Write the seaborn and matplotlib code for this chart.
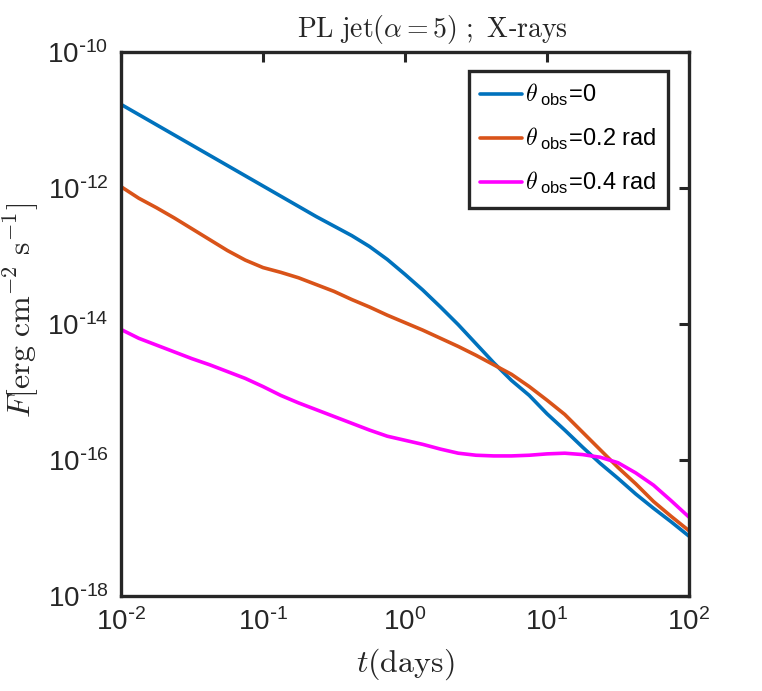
import numpy as np
import seaborn as sns
import matplotlib.pyplot as plt
from matplotlib.ticker import FixedLocator, FuncFormatter, NullLocator

# log10 of time (days) and log10 of flux
log_t = [-2.0, -1.875, -1.75, -1.625, -1.5, -1.375, -1.25, -1.125, -1.0,
         -0.875, -0.75, -0.625, -0.5, -0.375, -0.25, -0.125, 0.0,
         0.125, 0.25, 0.375, 0.5, 0.625, 0.75, 0.875, 1.0,
         1.125, 1.25, 1.375, 1.5, 1.625, 1.75, 1.875, 2.0]
log_f_0 = [-10.77, -10.92, -11.07, -11.22, -11.37, -11.52, -11.67, -11.82, -11.97,
           -12.12, -12.27, -12.42, -12.56, -12.70, -12.86, -13.05, -13.27,
           -13.50, -13.75, -14.01, -14.29, -14.57, -14.83, -15.05, -15.32,
           -15.56, -15.81, -16.05, -16.27, -16.50, -16.71, -16.91, -17.12]
log_f_02 = [-11.98, -12.15, -12.29, -12.44, -12.60, -12.76, -12.92, -13.06, -13.17,
            -13.24, -13.32, -13.42, -13.52, -13.64, -13.75, -13.87, -13.98,
            -14.09, -14.21, -14.33, -14.46, -14.60, -14.74, -14.92, -15.12,
            -15.33, -15.59, -15.85, -16.11, -16.35, -16.61, -16.83, -17.04]
log_f_04 = [-14.08, -14.21, -14.31, -14.41, -14.51, -14.60, -14.70, -14.80, -14.92,
            -15.05, -15.16, -15.26, -15.36, -15.46, -15.56, -15.65, -15.71,
            -15.77, -15.84, -15.90, -15.93, -15.94, -15.94, -15.93, -15.91,
            -15.90, -15.92, -15.96, -16.04, -16.19, -16.37, -16.60, -16.84]

labels = [r'$\theta\,{}_{\mathregular{obs}}$=0',
          r'$\theta\,{}_{\mathregular{obs}}$=0.2 rad',
          r'$\theta\,{}_{\mathregular{obs}}$=0.4 rad']
colors = ['#0072BD', '#D95319', '#FF00FF']

sns.set_theme(style='white')
plt.rcParams['font.family'] = ['Liberation Sans', 'DejaVu Sans']

ink = '#262626'
fig = plt.figure(figsize=(7.62, 6.91), dpi=100)
ax = fig.add_axes([0.1588, 0.1375, 0.7454, 0.7872])

t = 10.0 ** np.array(log_t)
for lf, lab, col in zip([log_f_0, log_f_02, log_f_04], labels, colors):
    sns.lineplot(x=t, y=10.0 ** np.array(lf), ax=ax, color=col, lw=2.6,
                 label=lab, sort=False)

ax.set_xscale('log')
ax.set_yscale('log')
ax.set_xlim(1e-2, 1e2)
ax.set_ylim(1e-18, 1e-10)

ax.xaxis.set_major_locator(FixedLocator([1e-2, 1e-1, 1e0, 1e1, 1e2]))
ax.yaxis.set_major_locator(FixedLocator([1e-18, 1e-16, 1e-14, 1e-12, 1e-10]))
ax.xaxis.set_minor_locator(NullLocator())
ax.yaxis.set_minor_locator(NullLocator())


def sci(v, pos):
    e = int(round(np.log10(v)))
    if e < 0:
        return r'$\mathregular{10^{\text{-}%d}}$' % (-e)
    return r'$\mathregular{10^{%d}}$' % e


ax.xaxis.set_major_formatter(FuncFormatter(sci))
ax.yaxis.set_major_formatter(FuncFormatter(sci))
ax.tick_params(which='major', direction='in', length=7, width=2.2,
               top=True, right=True, colors=ink, labelsize=20, pad=9)

for s in ax.spines.values():
    s.set_linewidth(2.4)
    s.set_color(ink)

ax.set_xlabel(r'$t(\mathrm{days})$', fontsize=23, color=ink,
              math_fontfamily='cm')
ax.set_ylabel(r'$F[\mathrm{erg\ cm}^{-2}\ \mathrm{s}^{-1}]$', fontsize=23,
              color=ink, math_fontfamily='cm')
ax.xaxis.set_label_coords(0.5, -0.092)
ax.yaxis.set_label_coords(-0.14, 0.525)
ax.set_title(r'$\mathrm{PL\ jet}(\alpha = 5)\ ;\ \mathrm{X}$' + '-' + r'$\mathrm{rays}$',
             fontsize=20, color=ink, math_fontfamily='cm',
             x=(432 - 121) / 568, pad=11)

leg = ax.legend(loc='upper right', bbox_to_anchor=(0.963, 0.966), fontsize=17,
                frameon=True, fancybox=False, framealpha=1, borderpad=0.5,
                handlelength=1.75, handletextpad=0.12, labelspacing=0.76,
                borderaxespad=0)
leg.get_frame().set_edgecolor(ink)
leg.get_frame().set_linewidth(2.4)
for txt in leg.get_texts():
    txt.set_math_fontfamily('cm')
    txt.set_color('black')

fig.savefig('out.png', dpi=100)
